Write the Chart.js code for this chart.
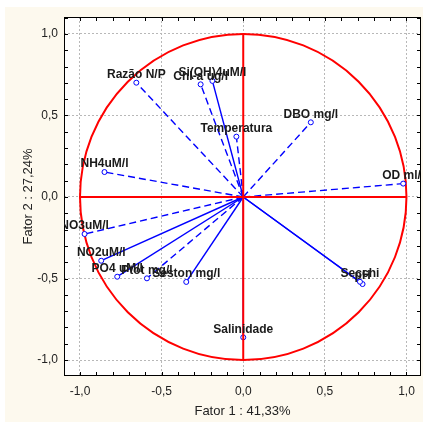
<!DOCTYPE html>
<html>
<head>
<meta charset="utf-8">
<script src="https://cdn.jsdelivr.net/npm/chart.js@4.4.1/dist/chart.umd.min.js"></script>
<style>
  html, body { margin: 0; padding: 0; background: #fff; }
  canvas { display: block; }
</style>
</head>
<body>
<canvas id="chart" width="423" height="423"></canvas>
<script>
// loadings on the first two factors
const variables = ['Razão N/P', 'Chl-a ug/l', 'Si(OH)4uM/l', 'Temperatura', 'DBO mg/l', 'OD ml/l',
  'NH4uM/l', 'NO3uM/l', 'NO2uM/l', 'PO4 uM/l', 'Ptot mg/l', 'Seston mg/l', 'Secchi', 'pH', 'Salinidade'];
const fator1 = [-0.655, -0.261, -0.189, -0.042, 0.414, 0.980,
  -0.850, -0.972, -0.870, -0.772, -0.590, -0.349, 0.715, 0.731, 0.000];
const fator2 = [0.701, 0.691, 0.712, 0.370, 0.458, 0.082,
  0.153, -0.227, -0.391, -0.489, -0.499, -0.521, -0.520, -0.534, -0.861];
const dashedLine = [true, true, false, true, true, true,
  true, true, false, false, true, false, false, false, false];

const xTitle = 'Fator 1 : 41,33%';
const yTitle = 'Fator 2 : 27,24%';

const FONT = 'Arial, "Liberation Sans", sans-serif';

function isMajor(v) {
  return Math.abs(v * 2 - Math.round(v * 2)) < 1e-6;
}
function fmt(v) {
  return isMajor(v) ? v.toFixed(1).replace('.', ',') : '';
}

// cream page, white plot area
const backdrop = {
  id: 'backdrop',
  beforeDraw(chart) {
    const { ctx, chartArea: a } = chart;
    ctx.save();
    ctx.fillStyle = '#ffffff';
    ctx.fillRect(0, 0, chart.width, chart.height);
    ctx.fillStyle = '#fdf9ee';
    ctx.fillRect(5, 7, chart.width - 5, chart.height - 8);
    ctx.fillStyle = '#ffffff';
    ctx.fillRect(a.left, a.top, a.right - a.left, a.bottom - a.top);
    ctx.restore();
  }
};

// unit circle and frame with inward ticks, under the arrows
const circle = {
  id: 'circle',
  beforeDatasetsDraw(chart) {
    const { ctx, chartArea: a, scales: { x, y } } = chart;
    const cx = x.getPixelForValue(0), cy = y.getPixelForValue(0);
    const rx = x.getPixelForValue(1) - cx, ry = cy - y.getPixelForValue(1);

    ctx.save();
    ctx.strokeStyle = '#000';
    ctx.lineWidth = 1;
    ctx.strokeRect(a.left + 0.5, a.top + 0.5, a.right - a.left - 1, a.bottom - a.top - 1);
    ctx.beginPath();
    x.ticks.forEach(t => {
      const px = Math.round(x.getPixelForValue(t.value)) + 0.5;
      ctx.moveTo(px, a.top); ctx.lineTo(px, a.top + 4);
      ctx.moveTo(px, a.bottom); ctx.lineTo(px, a.bottom - 4);
    });
    y.ticks.forEach(t => {
      const py = Math.round(y.getPixelForValue(t.value)) + 0.5;
      ctx.moveTo(a.left, py); ctx.lineTo(a.left + 4, py);
      ctx.moveTo(a.right, py); ctx.lineTo(a.right - 4, py);
    });
    ctx.stroke();

    ctx.strokeStyle = '#ff0000';
    ctx.lineWidth = 2;
    ctx.beginPath();
    ctx.ellipse(cx, cy, rx, ry, 0, 0, Math.PI * 2);
    ctx.stroke();
    ctx.restore();
  }
};

// red axes over the arrows, then the variable names (clipped to the plot)
const names = {
  id: 'names',
  afterDatasetsDraw(chart) {
    const { ctx, chartArea: a, scales: { x, y } } = chart;
    const cx = x.getPixelForValue(0), cy = y.getPixelForValue(0);
    ctx.save();
    ctx.strokeStyle = '#ff0000';
    ctx.lineWidth = 2;
    ctx.beginPath();
    ctx.moveTo(x.getPixelForValue(-1), cy); ctx.lineTo(x.getPixelForValue(1), cy);
    ctx.moveTo(cx, y.getPixelForValue(-1)); ctx.lineTo(cx, y.getPixelForValue(1));
    ctx.stroke();

    ctx.beginPath();
    ctx.rect(a.left, a.top, a.right - a.left, a.bottom - a.top);
    ctx.clip();
    ctx.font = 'bold 12px ' + FONT;
    ctx.fillStyle = '#1a1a1a';
    ctx.textAlign = 'center';
    ctx.textBaseline = 'middle';
    variables.forEach((name, i) => {
      const pt = chart.getDatasetMeta(i).data[1];
      ctx.fillText(name, pt.x, pt.y - 8);
    });
    ctx.restore();
  }
};

const datasets = variables.map((name, i) => ({
  label: name,
  data: [{ x: 0, y: 0 }, { x: fator1[i], y: fator2[i] }],
  showLine: true,
  borderColor: '#0000ff',
  borderWidth: 1.4,
  borderDash: dashedLine[i] ? [7, 4] : [],
  pointRadius: ctx => ctx.dataIndex === 0 ? 0 : 2.5,
  pointBorderColor: '#0000ff',
  pointBackgroundColor: '#ffffff',
  pointBorderWidth: 1
}));

const gridOpts = {
  color: ctx => ctx.tick && isMajor(ctx.tick.value) ? '#b8b8b8' : 'rgba(0,0,0,0)',
  lineWidth: 1,
  drawTicks: false
};

new Chart(document.getElementById('chart'), {
  type: 'scatter',
  data: { datasets },
  plugins: [backdrop, circle, names],
  options: {
    responsive: false,
    animation: false,
    layout: { autoPadding: false, padding: { left: 0, top: 17, right: 2, bottom: 0 } },
    plugins: { legend: { display: false }, tooltip: { enabled: false } },
    scales: {
      x: {
        type: 'linear',
        min: -1.098, max: 1.089,
        grid: gridOpts,
        border: { display: false, dash: [2, 2] },
        ticks: {
          stepSize: 0.1, includeBounds: false, autoSkip: false, maxRotation: 0,
          padding: 8, color: '#222', font: { family: FONT, size: 12 },
          callback: v => fmt(v)
        },
        title: {
          display: true, text: xTitle, color: '#222',
          font: { family: FONT, size: 13 }, padding: { top: 0, bottom: 4 }
        },
        afterFit: s => { s.height = 47; s.paddingLeft = 0; s.paddingRight = 0; }
      },
      y: {
        type: 'linear',
        min: -1.098, max: 1.104,
        grid: gridOpts,
        border: { display: false, dash: [2, 2] },
        ticks: {
          stepSize: 0.1, includeBounds: false, autoSkip: false,
          padding: 6, color: '#222', font: { family: FONT, size: 12 },
          callback: v => fmt(v)
        },
        title: {
          display: true, text: yTitle, color: '#222',
          font: { family: FONT, size: 13 }, padding: { top: 21, bottom: 0 }
        },
        afterFit: s => { s.width = 64; s.paddingTop = 0; s.paddingBottom = 0; }
      }
    }
  }
});
</script>
</body>
</html>
